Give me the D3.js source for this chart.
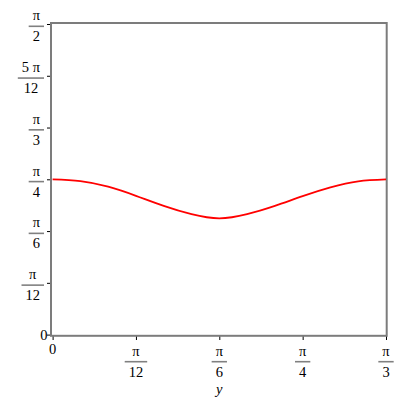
<html>
  <head>
    <meta charset="utf-8">
    <script src="https://d3js.org/d3.v7.min.js"></script>
    <style>
      body { margin: 0; background: #fff; }
      text { font-family: "Liberation Serif", "DejaVu Serif", serif; font-size: 14.5px; fill: #000; }
    </style>
  </head>
  <body>
    <svg width="400" height="400"></svg>
    <script>
      var PI = Math.PI;

      // curve samples (x in radians)
      var curveX = [0, PI/36, 2*PI/36, 3*PI/36, 4*PI/36, 5*PI/36, 6*PI/36,
                    7*PI/36, 8*PI/36, 9*PI/36, 10*PI/36, 11*PI/36, 12*PI/36];
      var curveY = [0.785, 0.776, 0.748, 0.702, 0.651, 0.609, 0.588,
                    0.609, 0.651, 0.700, 0.744, 0.775, 0.785];

      // tick labels as fractions
      var xTicks = [0, PI/12, PI/6, PI/4, PI/3];
      var xTickNum = ["0", "π", "π", "π", "π"];
      var xTickDen = ["", "12", "6", "4", "3"];

      var yTicks = [0, PI/12, PI/6, PI/4, PI/3, 5*PI/12, PI/2];
      var yTickNum = ["0", "π", "π", "π", "π", "5 π", "π"];
      var yTickDen = ["", "12", "6", "4", "3", "12", "2"];

      var xTitle = "y";

      var svg = d3.select("svg");

      var xScale = d3.scaleLinear().domain([0, PI/3]).range([52.6, 386]);
      var yScale = d3.scaleLinear().domain([0, PI/2]).range([334.6, 24]);

      // ticks
      var xAxis = d3.axisBottom(xScale).tickValues(xTicks).tickSize(4).tickFormat("");
      svg.append("g").attr("transform", "translate(0,336)").call(xAxis)
        .call(g => g.select(".domain").remove())
        .selectAll("line").attr("stroke", "#000");

      var yAxis = d3.axisLeft(yScale).tickValues(yTicks).tickSize(4).tickFormat("");
      svg.append("g").attr("transform", "translate(51,0)").call(yAxis)
        .call(g => g.select(".domain").remove())
        .selectAll("line").attr("stroke", "#000");

      // frame
      svg.append("rect")
        .attr("x", 51).attr("y", 23)
        .attr("width", 386.7 - 51).attr("height", 335.8 - 23)
        .attr("fill", "none").attr("stroke", "#7c7c7c").attr("stroke-width", 2);

      // curve
      var line = d3.line()
        .x((d, i) => xScale(curveX[i]))
        .y(d => yScale(d))
        .curve(d3.curveNatural);
      svg.append("path").datum(curveY)
        .attr("d", line)
        .attr("fill", "none").attr("stroke", "#ff0000").attr("stroke-width", 1.8);

      function fraction(g, num, den, cx, barY) {
        var t1 = g.append("text").attr("x", cx).attr("y", barY - 6)
          .attr("text-anchor", "middle").text(num);
        var t2 = g.append("text").attr("x", cx).attr("y", barY + 15)
          .attr("text-anchor", "middle").text(den);
        var w = Math.max(t1.node().getComputedTextLength(), t2.node().getComputedTextLength()) + 8;
        g.append("line").attr("x1", cx - w/2).attr("x2", cx + w/2)
          .attr("y1", barY).attr("y2", barY)
          .attr("stroke", "#808080").attr("stroke-width", 1.6);
        return w;
      }

      // x labels
      var xl = svg.append("g");
      xTicks.forEach(function(v, i) {
        var cx = xScale(v);
        if (xTickDen[i] === "") {
          xl.append("text").attr("x", cx).attr("y", 354)
            .attr("text-anchor", "middle").text(xTickNum[i]);
        } else {
          fraction(xl, xTickNum[i], xTickDen[i], cx, 361.7);
        }
      });

      // y labels (right aligned to x=44)
      var yl = svg.append("g");
      yTicks.forEach(function(v, i) {
        var ty = yScale(v);
        if (yTickDen[i] === "") {
          yl.append("text").attr("x", 47.5).attr("y", ty + 5)
            .attr("text-anchor", "end").text(yTickNum[i]);
        } else {
          var tmp = yl.append("g");
          var w = fraction(tmp, yTickNum[i], yTickDen[i], 0, ty + 2.3);
          tmp.attr("transform", "translate(" + (44 - w/2) + ",0)");
        }
      });

      // axis title
      svg.append("text").attr("x", xScale(PI/6)).attr("y", 394)
        .attr("text-anchor", "middle").attr("font-style", "italic").text(xTitle);
    </script>
  </body>
</html>
